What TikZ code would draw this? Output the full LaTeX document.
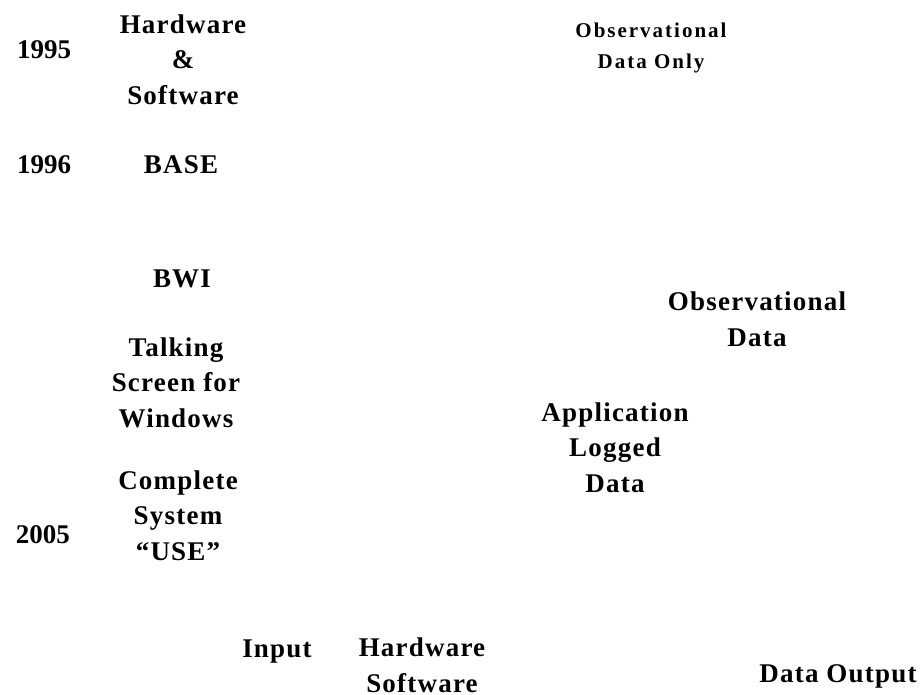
\documentclass[tikz,border=0pt]{standalone}
\usepackage{fontspec}
\setmainfont{Liberation Serif}
\newfontfamily\lblfont[LetterSpace=4.5]{Liberation Serif}
\newfontfamily\notefont[LetterSpace=9.5]{Liberation Serif}
\newfontfamily\yearfont{Liberation Serif}
% multi-line nodes are placed by the baseline of their last line
\tikzset{
  lbl/.style={anchor=base, inner sep=0pt, align=center,
    font=\lblfont\bfseries\fontsize{27}{35.5}\selectfont},
  note/.style={anchor=base, inner sep=0pt, align=center,
    font=\notefont\bfseries\fontsize{21}{31}\selectfont},
  year/.style={anchor=base, inner sep=0pt,
    font=\yearfont\bfseries\fontsize{27}{35.5}\selectfont},
}
\begin{document}
\begin{tikzpicture}[x=1pt, y=-1pt]
  \useasboundingbox[fill=white] (0,0) rectangle (924,694);

  % timeline years
  \node[year] (y1995) at (44,58)  {1995};
  \node[year] (y1996) at (44,173) {1996};
  \node[year] (y2005) at (43,543) {2005};

  % systems over time
  \node[lbl] (hwsw)     at (183,104) {Hardware\\\&\\Software};
  \node[lbl] (base)     at (181,173) {BASE};
  \node[lbl] (bwi)      at (182,287) {BWI};
  \node[lbl] (talking)  at (176,427) {Talking\\Screen for\\Windows};
  \node[lbl] (complete) at (178,560) {Complete\\System\\“USE”};

  % data sources
  \node[note] (obsonly) at (651,68)  {Observational\\Data Only};
  \node[lbl]  (obsdata) at (757,346) {Observational\\Data};
  \node[lbl]  (applog)  at (615,492) {Application\\Logged\\Data};

  % bottom axis
  \node[lbl] (input)  at (277,657) {Input};
  \node[lbl] (hwsw2)  at (422,692) {Hardware\\Software};
  \node[lbl] (output) at (838,682) {Data Output};
\end{tikzpicture}
\end{document}
